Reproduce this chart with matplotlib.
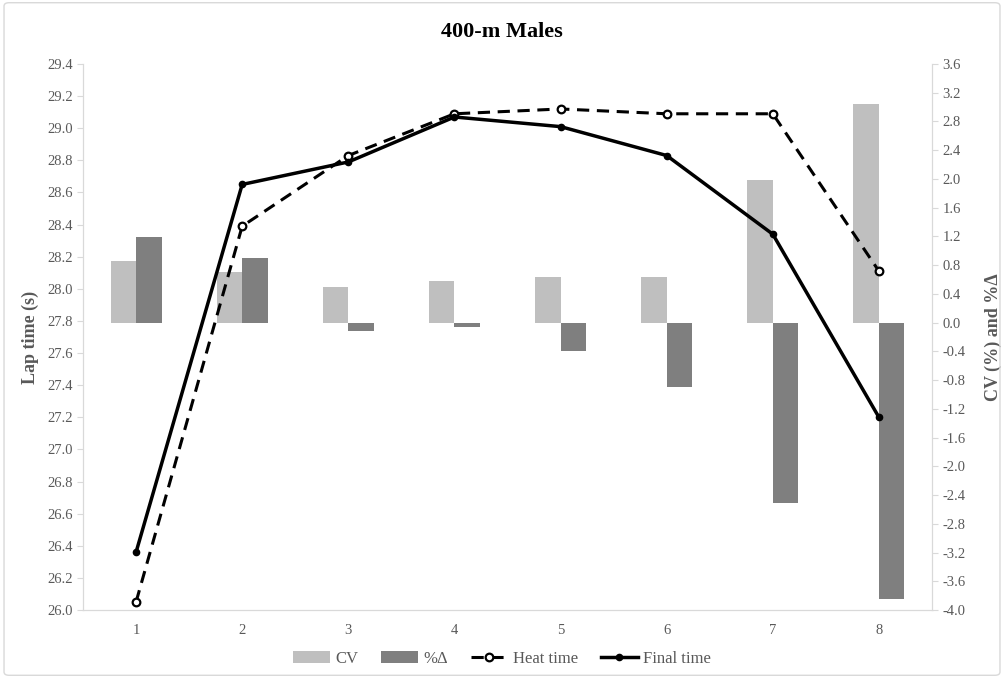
import matplotlib.pyplot as plt
from matplotlib.patches import FancyBboxPatch

laps = [1, 2, 3, 4, 5, 6, 7, 8]
heat_time = [26.05, 28.39, 28.83, 29.09, 29.12, 29.09, 29.09, 28.11]
final_time = [26.36, 28.65, 28.79, 29.07, 29.01, 28.83, 28.34, 27.20]
cv = [0.86, 0.71, 0.50, 0.58, 0.64, 0.64, 1.99, 3.04]
pct_delta = [1.19, 0.90, -0.11, -0.06, -0.39, -0.89, -2.51, -3.85]

left_ticks = [26.0 + 0.2 * i for i in range(18)]
right_ticks = [-4.0 + 0.4 * i for i in range(20)]

plt.rcParams['font.family'] = ['Liberation Serif', 'DejaVu Serif']
grey = '#595959'
axis_col = '#d9d9d9'

fig = plt.figure(figsize=(10.04, 6.78), dpi=100)
ax = fig.add_axes([83 / 1004, 1 - 610 / 678, (932 - 83) / 1004, (610 - 64) / 678])
ax2 = ax.twinx()

w = 0.24
ax2.bar([x - w / 2 for x in laps], cv, width=w, color='#bfbfbf', label='CV')
ax2.bar([x + w / 2 for x in laps], pct_delta, width=w, color='#7f7f7f', label='%Δ')

ax.plot(laps, heat_time, color='black', lw=2.2, ls=(0, (4, 2.5)), marker='o',
        ms=5.5, mfc='white', mec='black', mew=1.6, label='Heat time')
ax.plot(laps, final_time, color='black', lw=2.5, marker='o', ms=4.5,
        label='Final time')

ax.set_zorder(ax2.get_zorder() + 1)
ax.patch.set_visible(False)

ax.set_xlim(0.5, 8.5)
ax.set_ylim(26.0, 29.4)
ax2.set_ylim(-4.0, 3.6)
ax.set_xticks(laps)
ax.set_yticks(left_ticks)
ax.set_yticklabels([f'{v:.1f}' for v in left_ticks])
ax2.set_yticks(right_ticks)
ax2.set_yticklabels([f'{v:.1f}' for v in right_ticks])

for a in (ax, ax2):
    for s in a.spines.values():
        s.set_color(axis_col)
    a.spines['top'].set_visible(False)
    a.tick_params(colors=axis_col, labelcolor=grey, labelsize=10.5, length=4)
ax.tick_params(axis='x', length=0, pad=10)

ax.set_ylabel('Lap time (s)', fontsize=13, fontweight='bold', color=grey, labelpad=6)
ax2.set_ylabel('CV (%) and %Δ', fontsize=13, fontweight='bold', color=grey,
               rotation=90, labelpad=14)
fig.text(0.5, 1 - 32 / 678, '400-m Males', ha='center', va='center',
         fontsize=16, fontweight='bold')

h1, l1 = ax2.get_legend_handles_labels()
h2, l2 = ax.get_legend_handles_labels()
fig.legend(h1 + h2, l1 + l2, loc='center', bbox_to_anchor=(0.5, 1 - 659 / 678),
           ncol=4, frameon=False, fontsize=12, labelcolor=grey,
           handlelength=2.2, handletextpad=0.3, columnspacing=1.4)

fig.patches.append(FancyBboxPatch((0.004, 0.004), 0.992, 0.992, boxstyle='round,pad=0,rounding_size=0.005',
                                  transform=fig.transFigure, fill=False,
                                  edgecolor=axis_col, lw=1))

fig.savefig('out.png', dpi=100)
